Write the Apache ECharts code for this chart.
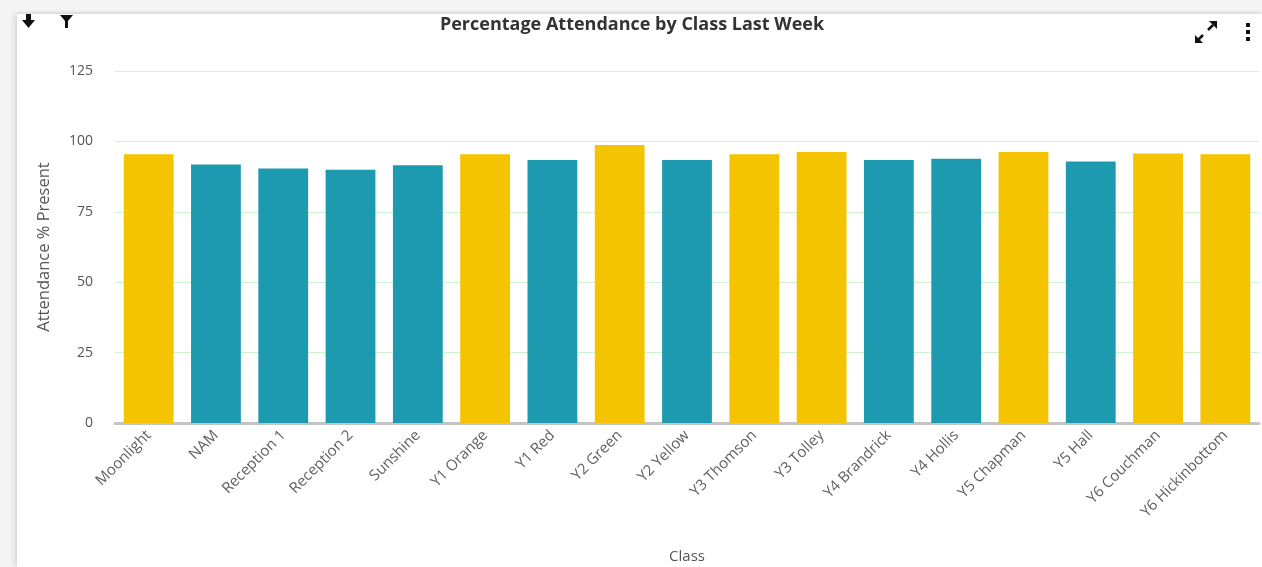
<!DOCTYPE html>
<html>
<head>
<meta charset="utf-8">
<script src="https://cdn.jsdelivr.net/npm/echarts@6/dist/echarts.min.js"></script>
<style>
  html, body { margin: 0; padding: 0; width: 1262px; height: 567px; overflow: hidden; background: #f5f5f5; }
  #card { position: absolute; left: 17px; top: 14px; right: 0; bottom: 0; background: #fff; box-shadow: -3px 0 6px rgba(0,0,0,0.10), 0 -2px 3px rgba(0,0,0,0.07); }
  #chart { position: absolute; left: 0; top: 0; width: 1262px; height: 567px; }
</style>
</head>
<body>
<div id="card"></div>
<div id="chart"></div>
<script>
// 班级与出勤率
const classes = ["Moonlight", "NAM", "Reception 1", "Reception 2", "Sunshine", "Y1 Orange", "Y1 Red", "Y2 Green", "Y2 Yellow", "Y3 Thomson", "Y3 Tolley", "Y4 Brandrick", "Y4 Hollis", "Y5 Chapman", "Y5 Hall", "Y6 Couchman", "Y6 Hickinbottom"];
const attendance = [95.4, 91.8, 90.4, 89.9, 91.5, 95.4, 93.4, 98.7, 93.4, 95.4, 96.2, 93.4, 93.8, 96.2, 92.9, 95.7, 95.4];
const target = 95;
const yTicks = [0, 25, 50, 75, 100, 125];

const myChart = echarts.init(document.getElementById("chart"));
const fontFamily = "'Open Sans', 'Noto Sans', sans-serif";

const option = {
  animation: false,
  textStyle: { fontFamily: fontFamily },
  title: {
    text: "Percentage Attendance by Class Last Week",
    left: 627,
    textAlign: "center",
    top: 11,
    textStyle: { fontSize: 18, fontWeight: "bold", color: "#333", fontFamily: fontFamily },
  },
  grid: { left: 115, right: 3, top: 71, bottom: 144, outerBoundsMode: "none" },
  xAxis: {
    type: "category",
    data: classes,
    name: "Class",
    nameLocation: "middle",
    nameGap: 126,
    nameTextStyle: { color: "#555", fontSize: 15 },
    axisLine: { lineStyle: { color: "#c4c4c4", width: 3 } },
    axisTick: { show: false },
    axisLabel: { rotate: 45, color: "#5f5f5f", fontSize: 15, interval: 0, margin: 10 },
  },
  yAxis: {
    type: "value",
    min: yTicks[0],
    max: yTicks[yTicks.length - 1],
    interval: 25,
    name: "Attendance % Present",
    nameLocation: "middle",
    nameGap: 62,
    nameTextStyle: { color: "#555", fontSize: 16.5 },
    axisLine: { show: false },
    axisTick: { show: false },
    axisLabel: { color: "#555", fontSize: 14, margin: 22 },
    splitLine: { lineStyle: { color: "#cdf5cd", width: 1 } },
  },
  series: [
    {
      type: "bar",
      data: attendance.map((v) => ({
        value: v,
        itemStyle: { color: v >= target ? "#f5c400" : "#1e9ab0" },
      })),
      barCategoryGap: "26%",
    },
  ],
  graphic: [
    // 下载箭头
    { type: "polygon", shape: { points: [[26, 14], [31, 14], [31, 20], [35, 20], [28.5, 28], [22, 20], [26, 20]] }, style: { fill: "#111" } },
    // 过滤图标
    { type: "polygon", shape: { points: [[60, 15], [73, 15], [68, 21], [68, 28], [65, 28], [65, 21]] }, style: { fill: "#111" } },
    // 展开图标
    { type: "polyline", shape: { points: [[1198, 40], [1203, 35]] }, style: { stroke: "#111", lineWidth: 2.5 } },
    { type: "polyline", shape: { points: [[1208, 30], [1213, 25]] }, style: { stroke: "#111", lineWidth: 2.5 } },
    { type: "polygon", shape: { points: [[1217, 21], [1217, 29], [1209, 21]] }, style: { fill: "#111" } },
    { type: "polygon", shape: { points: [[1195, 43], [1195, 35], [1203, 43]] }, style: { fill: "#111" } },
    // 更多菜单
    { type: "rect", shape: { x: 1246, y: 23, width: 4, height: 4 }, style: { fill: "#111" } },
    { type: "rect", shape: { x: 1246, y: 30, width: 4, height: 4 }, style: { fill: "#111" } },
    { type: "rect", shape: { x: 1246, y: 37, width: 4, height: 4 }, style: { fill: "#111" } },
  ],
};

myChart.setOption(option);
window.onresize = function () {
  myChart.resize();
};
</script>
</body>
</html>
